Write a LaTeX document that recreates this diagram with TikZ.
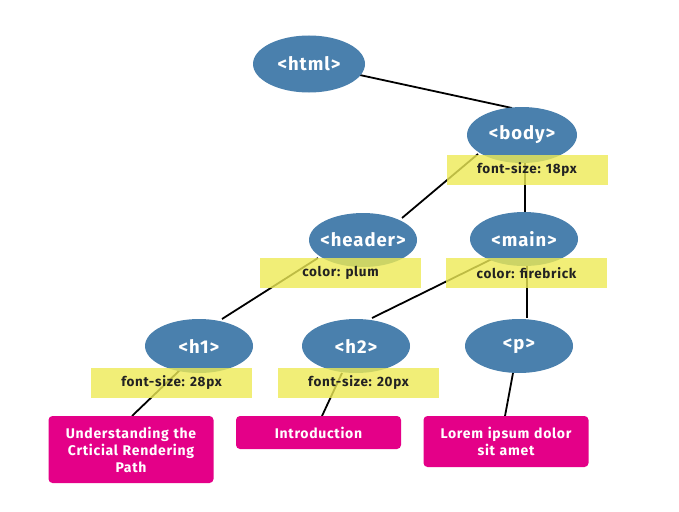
\documentclass[tikz,border=0pt]{standalone}
\usepackage{fontspec}
\setmainfont{Fira Sans}[LetterSpace=5]
\usetikzlibrary{calc,backgrounds,shapes.geometric}
\definecolor{elblue}{RGB}{74,128,173}
\definecolor{hlyellow}{RGB}{237,234,85}
\definecolor{tagpink}{RGB}{228,0,136}
\definecolor{labeltext}{RGB}{34,34,34}
\tikzset{
  tagnode/.style={ellipse, fill=elblue, draw=none, inner sep=0pt, outer sep=0pt,
    minimum width=108pt, minimum height=54pt, text=white,
    font=\fontsize{18.5}{20}\selectfont\bfseries},
  stylebox/.style={rectangle, fill=hlyellow, fill opacity=0.8, text opacity=1,
    draw=none, inner sep=0pt, outer sep=0pt, minimum width=161pt, minimum height=30pt,
    text=labeltext, font=\fontsize{13.5}{15}\selectfont\bfseries},
  textbox/.style={rectangle, rounded corners=4pt, fill=tagpink, draw=none,
    inner sep=0pt, outer sep=0pt, minimum width=165pt, text width=165pt, align=center,
    text=white, font=\fontsize{14}{17}\selectfont\bfseries},
  link/.style={draw=black, line width=1.8pt}
}
\begin{document}
\begin{tikzpicture}[x=1pt,y=-1pt]
\useasboundingbox (0,0) rectangle (679,511);
% element nodes
\node[tagnode, minimum width=112pt, minimum height=57pt] (html) at (309,64) {<html>};
\node[tagnode, minimum width=110pt, minimum height=56pt] (body) at (522,135) {<body>};
\node[tagnode] (header) at (363,240) {\makebox[50pt][c]{<header>}};
\node[tagnode] (main) at (524,239) {<main>};
\node[tagnode] (h1) at (199,346) {<h1>};
\node[tagnode] (h2) at (356,346) {<h2>};
\node[tagnode] (p) at (519,346) {<p>};
% style labels
\node[stylebox] (sbody) at (527,170) {font-size: 18px};
\node[stylebox] (sheader) at (340.5,273) {color: plum};
\node[stylebox] (smain) at (526.5,273) {color: firebrick};
\node[stylebox] (sh1) at (171.5,382.5) {font-size: 28px};
\node[stylebox] (sh2) at (358.5,382.5) {font-size: 20px};
% text boxes
\node[textbox, minimum height=67pt] (t1) at (131,449.5) {Understanding the\\Crticial Rendering\\Path};
\node[textbox, minimum height=33pt] (t2) at (318.5,432.5) {Introduction};
\node[textbox, minimum height=51pt] (t3) at (506,441.5) {Lorem ipsum dolor\\sit amet};
% connectors
\begin{scope}[on background layer]
\draw[link] (html.center) -- ($(body.center)+(-10,-27)$);
\draw[link] ($(body.center)+(-44,19)$) -- ($(header.center)+(39,-22)$);
\draw[link] ($(body.center)+(3,27)$) -- ($(main.center)+(1,-26)$);
\draw[link] ($(header.center)+(-45,18)$) -- ($(h1.center)+(23,-27)$);
\draw[link] ($(main.center)+(-32,20)$) -- ($(h2.center)+(16,-28)$);
\draw[link] ($(main.center)+(3,26)$) -- ($(p.center)+(8,-28)$);
\draw[link] ($(h1.center)+(-19,24)$) -- ($(t1.north)+(1,0)$);
\draw[link] ($(h2.center)+(-14,27)$) -- ($(t2.north)+(3.5,0)$);
\draw[link] ($(p.center)+(-6,27)$) -- ($(t3.north)+(-1,0)$);
\end{scope}
\end{tikzpicture}
\end{document}
